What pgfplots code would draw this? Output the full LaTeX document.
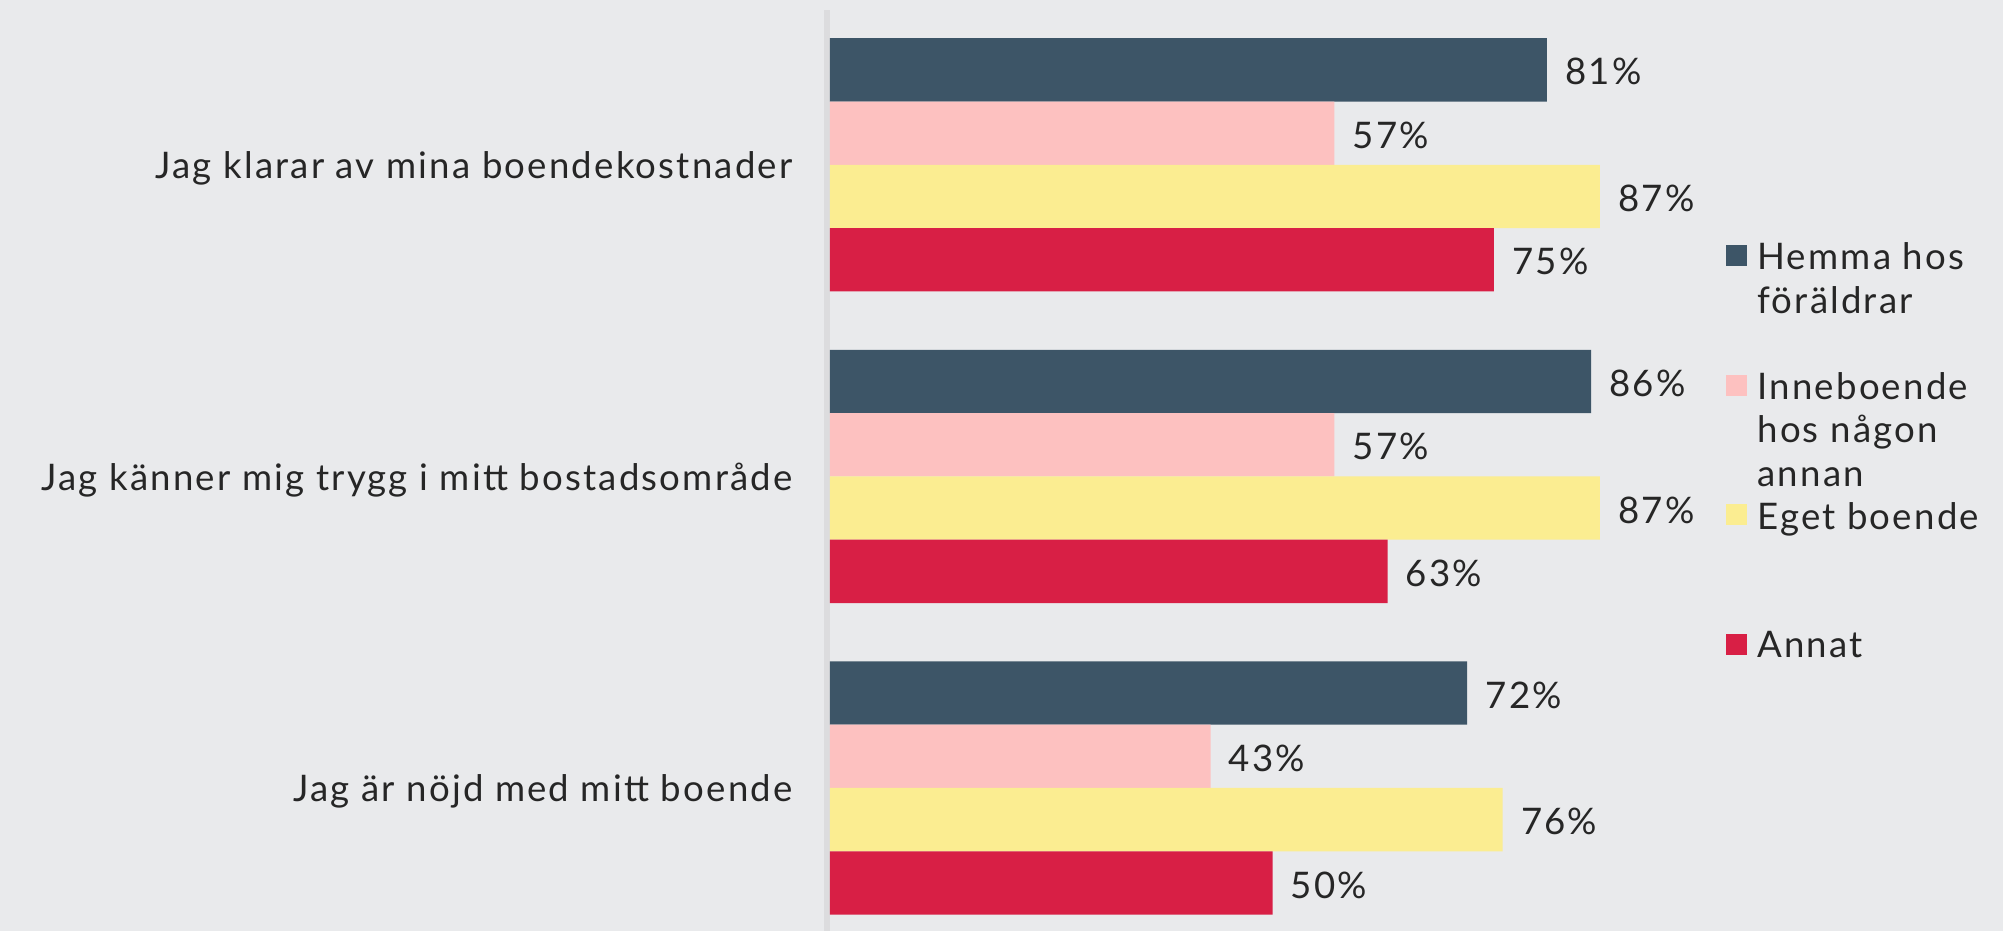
\documentclass[border=0pt]{standalone}
\usepackage{pgfplots}
\pgfplotsset{compat=1.18}
\usepackage{fontspec}
\setmainfont{Lato}[LetterSpace=6]
\definecolor{bg}{HTML}{E9EAEC}
\definecolor{axisgray}{HTML}{DCDCDE}
\definecolor{cdark}{HTML}{3D5567}
\definecolor{cpink}{HTML}{FDC1C0}
\definecolor{cyellow}{HTML}{FBED91}
\definecolor{cred}{HTML}{D81F45}
\definecolor{txt}{HTML}{262626}
\begin{document}
\begin{tikzpicture}[font=\fontsize{18.3pt}{22pt}\selectfont, text=txt]
\useasboundingbox (0,0) rectangle (1001.5pt,465.5pt);
\fill[bg] (0,0) rectangle (1001.5pt,465.5pt);
\draw[axisgray, line width=3pt] (413.5pt,0) -- (413.5pt,460.5pt);
\begin{axis}[
  at={(415pt,0pt)}, anchor=south west,
  scale only axis, width=442.5pt, height=460.5pt,
  xbar, bar width=31.65pt,
  xmin=0, xmax=100, ymin=-0.459, ymax=2.497,
  axis line style={draw=none},
  major tick length=0pt,
  xtick=\empty,
  ytick={0,1,2},
  yticklabels={Jag är nöjd med mitt boende, Jag känner mig trygg i mitt bostadsområde, Jag klarar av mina boendekostnader},
  yticklabel style={anchor=east, inner sep=0pt, xshift=-18.5pt, yshift=-1.8pt, text=txt},
  /pgf/number format/assume math mode=true,
  nodes near coords={\pgfmathprintnumber{\pgfplotspointmeta}\%},
  nodes near coords style={anchor=west, inner sep=0pt, xshift=9pt, yshift=-1pt, text=txt},
  clip=false,
]
\addplot[fill=cdark, draw=none, bar shift=47.475pt] coordinates {(72,0) (86,1) (81,2)};
\addplot[fill=cpink, draw=none, bar shift=15.825pt] coordinates {(43,0) (57,1) (57,2)};
\addplot[fill=cyellow, draw=none, bar shift=-15.825pt] coordinates {(76,0) (87,1) (87,2)};
\addplot[fill=cred, draw=none, bar shift=-47.475pt] coordinates {(50,0) (63,1) (75,2)};
\end{axis}
% legend
\fill[cdark] (863pt,332.5pt) rectangle (873.5pt,343pt);
\node[anchor=base west, inner sep=0pt] at (878.5pt,330.5pt) {Hemma hos};
\node[anchor=base west, inner sep=0pt] at (878.5pt,308.5pt) {föräldrar};
\fill[cpink] (863pt,267.5pt) rectangle (873.5pt,278pt);
\node[anchor=base west, inner sep=0pt] at (878.5pt,265.5pt) {Inneboende};
\node[anchor=base west, inner sep=0pt] at (878.5pt,244pt) {hos någon};
\node[anchor=base west, inner sep=0pt] at (878.5pt,222pt) {annan};
\fill[cyellow] (863pt,203pt) rectangle (873.5pt,213.5pt);
\node[anchor=base west, inner sep=0pt] at (878.5pt,200.5pt) {Eget boende};
\fill[cred] (863pt,138pt) rectangle (873.5pt,148.5pt);
\node[anchor=base west, inner sep=0pt] at (878.5pt,136.5pt) {Annat};
\end{tikzpicture}
\end{document}
